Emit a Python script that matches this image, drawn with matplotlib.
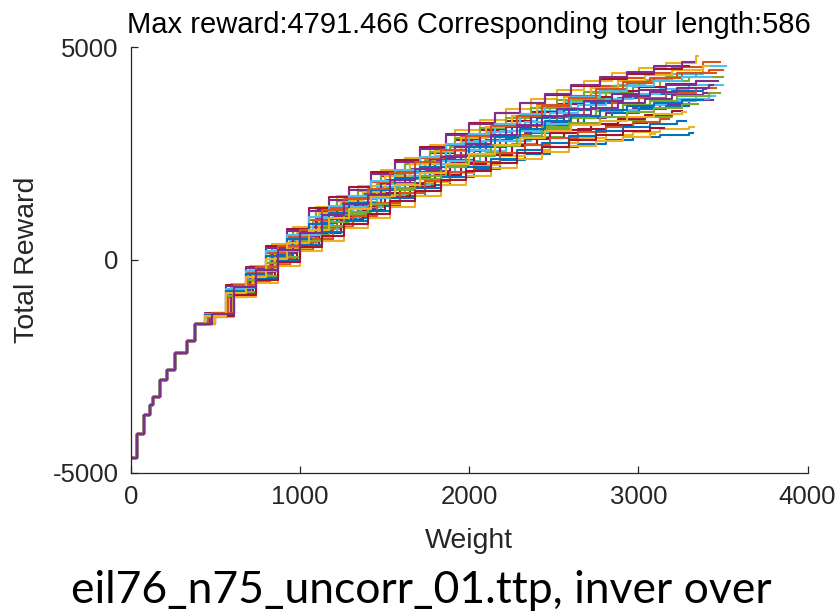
import matplotlib.pyplot as plt

plt.rcParams["font.family"] = ["Liberation Sans", "DejaVu Sans"]
plt.rcParams["axes.unicode_minus"] = False

# MATLAB default line colours, cycled over the runs
COLORS = ["#0072BD", "#D95319", "#EDB120", "#7E2F8E", "#77AC30", "#4DBEEE", "#A2142F"]

# shared start of every run (weight, total reward)
HEAD_W = [0, 33, 75, 112, 131, 171, 211, 260, 331, 378]
HEAD_R = [-4650, -4090, -3660, -3420, -3220, -2830, -2590, -2200, -1920, -1510]

# sets of pick-up weights used by the runs after the shared start
STEPS_A = [455, 573, 691, 821, 939, 1076, 1194, 1312, 1452, 1590, 1740,
           1885, 2030, 2180, 2330, 2480, 2640, 2810, 2970, 3130, 3300]
STEPS_B = [496, 600, 720, 850, 980, 1110, 1240, 1370, 1500, 1650, 1800,
           1950, 2100, 2250, 2400, 2560, 2720, 2880, 3040, 3200, 3380]
STEPS_C = [470, 590, 705, 835, 960, 1095, 1220, 1345, 1480, 1620, 1770,
           1915, 2065, 2215, 2365, 2520, 2680, 2845, 3005, 3165, 3340]
STEPS_D = [440, 560, 680, 800, 920, 1050, 1170, 1290, 1420, 1560, 1710,
           1860, 2000, 2150, 2300, 2450, 2600, 2770, 2930, 3090, 3260]
STEPS_E = [480, 610, 740, 870, 1000, 1130, 1260, 1400, 1530, 1680, 1830,
           1980, 2130, 2280, 2430, 2590, 2750, 2910, 3070, 3230, 3420]
PATTERNS = {"A": STEPS_A, "B": STEPS_B, "C": STEPS_C, "D": STEPS_D, "E": STEPS_E}

run_pattern = ["A", "B", "C"] * 7 + ["D", "E"] * 7
run_end_w = [3500, 3520, 3380, 3320, 3480, 3350, 3440, 3260, 3450, 3050, 3400,
             3460, 3330, 3440, 3400, 3500, 3260, 3300, 3180, 3420, 3470,
             3350, 3450, 3300, 3280, 3460, 3100, 3330, 3480, 3430, 3150,
             3380, 3500, 3280, 3440]

run_rewards = [
    [-1300, -730, -330, 130, 510, 900, 1180, 1420, 1770, 2040, 2340, 2640, 2880, 3140, 3360, 3570, 3770, 3930, 4060, 4190, 4290],
    [-1290, -690, -290, 180, 570, 990, 1260, 1500, 1870, 2140, 2440, 2760, 3010, 3260, 3500, 3710, 3930, 4100, 4230, 4360, 4560],
    [-1260, -600, -170, 310, 700, 1160, 1400, 1630, 1980, 2240, 2520, 2820, 3050, 3270, 3480, 3660, 3830, 3960, 4060, 4140, 4200],
    [-1340, -870, -520, -120, 230, 470, 760, 980, 1260, 1490, 1750, 1950, 2140, 2340, 2490, 2640, 2730, 2810, 2880, 2930, 2970],
    [-1280, -660, -240, 240, 630, 1080, 1350, 1590, 1960, 2240, 2550, 2880, 3130, 3390, 3640, 3860, 4080, 4270, 4400, 4540, 4650],
    [-1250, -580, -140, 360, 760, 1250, 1510, 1740, 2120, 2400, 2700, 3040, 3290, 3540, 3780, 3990, 4210, 4380, 4510, 4630, 4791],
    [-1320, -800, -420, 10, 380, 700, 980, 1220, 1540, 1800, 2080, 2340, 2560, 2790, 2990, 3170, 3330, 3460, 3570, 3670, 3750],
    [-1310, -770, -390, 40, 410, 730, 1000, 1230, 1550, 1780, 2050, 2290, 2500, 2710, 2890, 3050, 3180, 3280, 3360, 3430],
    [-1330, -830, -460, -40, 340, 650, 940, 1180, 1500, 1760, 2050, 2310, 2550, 2780, 3000, 3190, 3360, 3510, 3630, 3740, 3840],
    [-1300, -740, -350, 80, 440, 780, 1040, 1260, 1560, 1790, 2040, 2280, 2470, 2670, 2830, 2980, 3080, 3160, 3220],
    [-1270, -630, -220, 250, 640, 1070, 1320, 1540, 1880, 2130, 2420, 2700, 2920, 3140, 3340, 3520, 3680, 3800, 3890, 3960, 4020],
    [-1320, -780, -400, 50, 420, 770, 1050, 1290, 1630, 1890, 2180, 2460, 2700, 2940, 3150, 3350, 3540, 3690, 3810, 3920, 4030],
    [-1340, -850, -500, -90, 260, 520, 800, 1030, 1320, 1560, 1820, 2030, 2220, 2430, 2590, 2740, 2850, 2930, 3010, 3070, 3120],
    [-1290, -680, -280, 170, 560, 960, 1220, 1440, 1780, 2030, 2310, 2590, 2810, 3030, 3230, 3410, 3570, 3690, 3780, 3870, 3930],
    [-1270, -610, -190, 290, 680, 1140, 1390, 1620, 1990, 2260, 2540, 2860, 3100, 3330, 3560, 3750, 3940, 4090, 4200, 4300, 4380],
    [-1300, -750, -360, 90, 470, 850, 1120, 1360, 1700, 1970, 2260, 2550, 2790, 3030, 3240, 3440, 3630, 3780, 3900, 4020, 4110],
    [-1330, -810, -450, -20, 350, 640, 930, 1160, 1480, 1720, 2000, 2240, 2460, 2690, 2870, 3040, 3190, 3310, 3410, 3500],
    [-1300, -720, -320, 120, 490, 860, 1110, 1340, 1660, 1910, 2190, 2440, 2650, 2860, 3040, 3210, 3350, 3450, 3540, 3610],
    [-1350, -880, -530, -130, 240, 490, 780, 1020, 1330, 1570, 1850, 2070, 2290, 2510, 2690, 2870, 3000, 3120, 3230, 3310],
    [-1280, -640, -230, 260, 650, 1100, 1370, 1600, 1970, 2250, 2550, 2870, 3120, 3370, 3610, 3820, 4040, 4210, 4340, 4460, 4560],
    [-1290, -700, -300, 160, 550, 950, 1230, 1460, 1810, 2070, 2370, 2660, 2900, 3130, 3350, 3550, 3740, 3890, 4000, 4110, 4200],
    [-1335, -845, -480, -70, 300, 590, 880, 1120, 1440, 1690, 1980, 2220, 2450, 2680, 2880, 3070, 3220, 3360, 3470, 3570, 3660],
    [-1280, -670, -260, 200, 580, 980, 1230, 1450, 1790, 2040, 2320, 2580, 2800, 3020, 3200, 3370, 3520, 3630, 3720, 3790, 3840],
    [-1260, -590, -160, 330, 730, 1210, 1470, 1700, 2070, 2340, 2640, 2960, 3210, 3450, 3680, 3880, 4090, 4250, 4360, 4480, 4560],
    [-1320, -800, -430, -10, 350, 650, 920, 1150, 1450, 1680, 1950, 2170, 2370, 2580, 2750, 2900, 3020, 3110, 3190, 3250],
    [-1295, -710, -310, 150, 540, 940, 1220, 1460, 1820, 2090, 2390, 2700, 2950, 3200, 3430, 3640, 3850, 4020, 4150, 4280, 4380],
    [-1345, -885, -540, -140, 210, 450, 740, 970, 1250, 1500, 1760, 1960, 2160, 2370, 2530, 2680, 2790, 2880, 2960],
    [-1270, -620, -200, 280, 670, 1150, 1410, 1650, 2020, 2300, 2600, 2930, 3180, 3440, 3680, 3890, 4110, 4290, 4420, 4550, 4650],
    [-1310, -760, -380, 60, 440, 790, 1070, 1300, 1640, 1900, 2190, 2450, 2690, 2920, 3130, 3320, 3490, 3630, 3740, 3850, 3930],
    [-1285, -680, -270, 200, 580, 1000, 1270, 1500, 1860, 2120, 2420, 2720, 2960, 3200, 3420, 3620, 3820, 3970, 4090, 4200, 4290],
    [-1330, -830, -470, -60, 290, 570, 850, 1080, 1370, 1610, 1870, 2090, 2280, 2500, 2660, 2810, 2930, 3020, 3100],
    [-1300, -730, -340, 100, 480, 830, 1100, 1330, 1650, 1910, 2180, 2440, 2660, 2880, 3070, 3250, 3390, 3510, 3610, 3690, 3750],
    [-1260, -600, -180, 320, 710, 1180, 1430, 1660, 2030, 2290, 2590, 2910, 3150, 3390, 3620, 3810, 4010, 4170, 4280, 4390, 4470],
    [-1315, -780, -410, 20, 390, 710, 970, 1200, 1510, 1760, 2030, 2260, 2480, 2700, 2860, 3030, 3160, 3260, 3350, 3420, 3480],
    [-1275, -650, -240, 230, 620, 1050, 1300, 1530, 1870, 2140, 2410, 2710, 2930, 3160, 3370, 3550, 3720, 3860, 3950, 4040, 4110],
]

TITLE = "Max reward:4791.466 Corresponding tour length:586"
CAPTION = "eil76_n75_uncorr_01.ttp, inver over"

fig = plt.figure(figsize=(8.38, 6.13), dpi=100)
ax = fig.add_axes([0.1563, 0.2292, 0.8074, 0.6941])

# colour cycle offset so the last run drawn (on top of the shared start) is purple
for i, rewards in enumerate(run_rewards):
    steps = PATTERNS[run_pattern[i]][:len(rewards)]
    w = HEAD_W + steps + [run_end_w[i]]
    r = HEAD_R + rewards + [rewards[-1]]
    ax.step(w, r, where="post", color=COLORS[(i + 4) % len(COLORS)], lw=1.5)

ax.set_xlim(0, 4000)
ax.set_ylim(-5000, 5000)
ax.set_xticks([0, 1000, 2000, 3000, 4000])
ax.set_yticks([-5000, 0, 5000])
for side in ["top", "right"]:
    ax.spines[side].set_visible(False)
for side in ["left", "bottom"]:
    ax.spines[side].set_color("#262626")
    ax.spines[side].set_linewidth(0.9)
ax.tick_params(direction="in", length=5, width=0.9, color="#262626",
               labelcolor="#262626", labelsize=18.5, pad=9)

ax.set_title(TITLE, fontsize=21, pad=10)
ax.set_xlabel("Weight", fontsize=20.5, color="#262626")
ax.set_ylabel("Total Reward", fontsize=20.5, color="#262626")
ax.xaxis.set_label_coords(0.5, -0.13)
ax.yaxis.set_label_coords(-0.135, 0.5)

fig.text(0.503, 0.016, CAPTION, family=["Lato", "DejaVu Sans"], fontsize=32,
         ha="center", va="baseline")

fig.savefig("out.png", dpi=100)
